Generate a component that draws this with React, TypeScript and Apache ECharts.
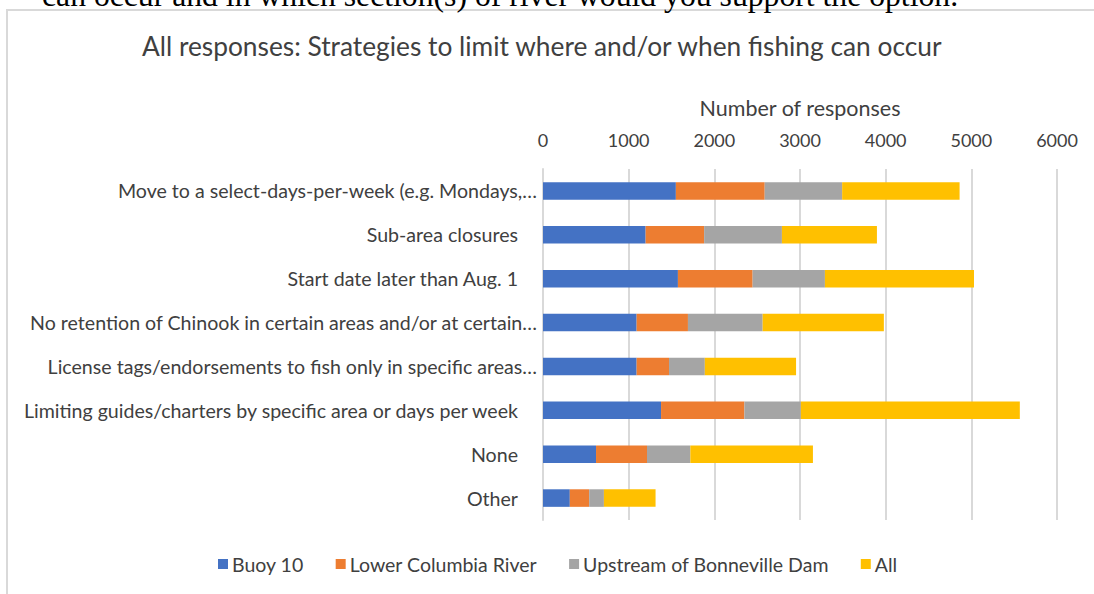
import React, { useEffect, useRef } from "react";
import * as echarts from "echarts";

const categories = [
  "Move to a select-days-per-week (e.g. Mondays,…",
  "Sub-area closures",
  "Start date later than Aug. 1",
  "No retention of Chinook in certain areas and/or at certain…",
  "License tags/endorsements to fish only in specific areas…",
  "Limiting guides/charters by specific area or days per week",
  "None",
  "Other",
];
const truncated = [true, false, false, true, true, false, false, false];

const seriesNames = ["Buoy 10", "Lower Columbia River", "Upstream of Bonneville Dam", "All"];
const buoy10 = [1551, 1198, 1575, 1093, 1093, 1378, 619, 313];
const lowerColumbia = [1037, 683, 872, 599, 378, 973, 595, 226];
const upstreamBonneville = [904, 908, 844, 872, 418, 659, 506, 172];
const allSections = [1371, 1109, 1740, 1415, 1065, 2556, 1431, 603];
const colors = ["#4472C4", "#ED7D31", "#A5A5A5", "#FFC000"];

const titleText = "All responses: Strategies to limit where and/or when fishing can occur";
const axisName = "Number of responses";
const captionText = "can occur and in which section(s) of river would you support the option.";

const FONT = "Lato, 'Open Sans', sans-serif";
const TXT = "#404040";

export default function App() {
  const ref = useRef<HTMLDivElement>(null);
  useEffect(() => {
    if (!ref.current) return;
    const chart = echarts.init(ref.current, null, { renderer: "svg" });
    const values = [buoy10, lowerColumbia, upstreamBonneville, allSections];
    chart.setOption({
      animation: false,
      backgroundColor: "#ffffff",
      textStyle: { fontFamily: FONT },
      title: {
        text: titleText,
        left: 137,
        top: 28,
        textStyle: { fontFamily: FONT, fontSize: 26.3, fontWeight: "normal", color: TXT },
      },
      graphic: [
        {
          type: "rect",
          shape: { x: 7, y: 10, width: 1200, height: 700 },
          style: { fill: "none", stroke: "#d9d9d9", lineWidth: 2 },
          silent: true,
        },
        {
          type: "text",
          x: 42,
          y: -4.5,
          style: {
            text: captionText,
            font: "31.7px 'Liberation Serif', 'Times New Roman', serif",
            fill: "#000000",
            textVerticalAlign: "middle",
          },
          silent: true,
        },
      ],
      legend: {
        data: seriesNames,
        top: 549,
        left: 213,
        itemWidth: 10,
        itemHeight: 10,
        itemGap: 32,
        icon: "rect",
        textStyle: { fontFamily: FONT, fontSize: 19.5, color: TXT, padding: [0, 0, 0, -1] },
      },
      grid: { left: 543, right: 37, top: 169, bottom: 74, containLabel: false },
      xAxis: {
        type: "value",
        position: "top",
        min: 0,
        max: 6000,
        interval: 1000,
        name: axisName,
        nameLocation: "middle",
        nameGap: 50,
        nameTextStyle: { fontFamily: FONT, fontSize: 21.5, color: TXT },
        axisLine: { show: false },
        axisTick: { show: false },
        axisLabel: {
          margin: 20,
          fontFamily: FONT,
          fontSize: 18,
          color: TXT,
          formatter: (v: number) => String(v),
        },
        splitLine: { show: true, lineStyle: { color: "#d9d9d9", width: 2 } },
      },
      yAxis: {
        type: "category",
        inverse: true,
        data: categories,
        axisLine: { show: true, lineStyle: { color: "#d9d9d9", width: 2 } },
        axisTick: { show: false },
        axisLabel: {
          margin: 6,
          fontFamily: FONT,
          fontSize: 19.6,
          color: TXT,
          formatter: (v: string, i: number) => (truncated[i] ? `{t|${v}}` : `{p|${v}}`),
          rich: {
            t: { fontFamily: FONT, fontSize: 19.6, color: TXT },
            p: { fontFamily: FONT, fontSize: 19.6, color: TXT, padding: [0, 19, 0, 0] },
          },
        },
      },
      series: seriesNames.map((name, k) => ({
        name,
        type: "bar",
        stack: "total",
        barWidth: "40%",
        data: values[k],
        itemStyle: { color: colors[k] },
      })),
    });
    return () => chart.dispose();
  }, []);
  return (
    <div
      ref={ref}
      style={{ position: "fixed", left: 0, top: 0, width: 1094, height: 594 }}
    />
  );
}
